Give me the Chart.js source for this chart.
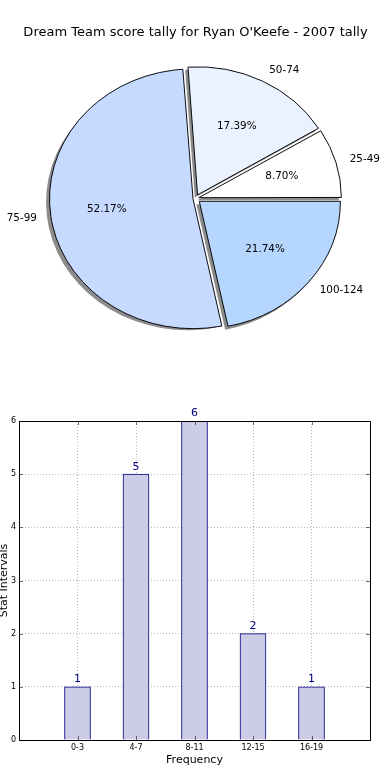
<!DOCTYPE html>
<html lang="en">
<head>
  <meta charset="UTF-8" />
  <title>Dream Team score tally</title>
  <script src="https://cdn.jsdelivr.net/npm/chart.js"></script>
  <style>
    body { margin: 0; background: #fff; font-family: 'DejaVu Sans', sans-serif; }
    #pieBox { position: absolute; left: 0; top: 0; width: 390px; height: 380px; }
    #barBox { position: absolute; left: 0; top: 390px; width: 390px; height: 390px; }
  </style>
</head>
<body>

  <div id="pieBox"><canvas id="pieChart" width="390" height="380"></canvas></div>
  <div id="barBox"><canvas id="barChart" width="390" height="390"></canvas></div>

  <script>
    // pie data (matplotlib order, counter-clockwise from 3 o'clock)
    const pieLabels = ['25-49', '50-74', '75-99', '100-124'];
    const pieValues = [2, 4, 12, 5];
    const pieColors = ['#ffffff', '#eaf2ff', '#c6d9ff', '#b5d6ff'];

    // bar data
    const barCategories = ['0-3', '4-7', '8-11', '12-15', '16-19'];
    const barValues = [1, 5, 6, 2, 1];
    const yTicks = [0, 1, 2, 3, 4, 5, 6];

    Chart.defaults.font.family = "'DejaVu Sans', sans-serif";
    Chart.defaults.color = '#000';

    const squash = 0.905;   // the pie axes are not square -> ellipse
    const explode = 5;      // px each wedge is pulled out
    const total = pieValues.reduce((a, b) => a + b, 0);

    // chart.js runs clockwise, so reverse to get the same look
    const order = [3, 2, 1, 0];
    const cjLabels = order.map(i => pieLabels[i]);
    const cjValues = order.map(i => pieValues[i]);
    const cjColors = order.map(i => pieColors[i]);
    // ArcElement moves offset/4 * (2 - sin(circ)), undo that so every wedge moves `explode` px
    const cjOffsets = cjValues.map(v => {
      const circ = v / total * 2 * Math.PI;
      return explode * 4 / (2 - Math.sin(Math.min(Math.PI, circ)));
    });

    const piePlugin = {
      id: 'pieLook',
      beforeDatasetsDraw(chart) {
        const ctx = chart.ctx;
        const arcs = chart.getDatasetMeta(0).data;
        const a = arcs[0];
        ctx.save();
        ctx.translate(a.x, a.y);
        ctx.scale(1, squash);
        ctx.translate(-a.x, -a.y);
        // shadows first, under every wedge
        ctx.fillStyle = 'rgba(0,0,0,0.45)';
        arcs.forEach(arc => {
          const mid = (arc.startAngle + arc.endAngle) / 2;
          const cx = arc.x + Math.cos(mid) * explode - 3;
          const cy = arc.y + Math.sin(mid) * explode + 3 / squash;
          ctx.beginPath();
          ctx.moveTo(cx, cy);
          ctx.arc(cx, cy, arc.outerRadius + 0.5, arc.startAngle, arc.endAngle);
          ctx.closePath();
          ctx.fill();
        });
      },
      afterDatasetsDraw(chart) {
        const ctx = chart.ctx;
        ctx.restore();
        ctx.save();
        ctx.font = "10.4px 'DejaVu Sans'";
        ctx.fillStyle = '#000';
        ctx.textBaseline = 'middle';
        chart.getDatasetMeta(0).data.forEach((arc, i) => {
          const mid = (arc.startAngle + arc.endAngle) / 2;
          const c = Math.cos(mid), s = Math.sin(mid);
          const r = arc.outerRadius;
          // outer label
          const d1 = explode + 1.1 * r;
          ctx.textAlign = c > 0 ? 'left' : 'right';
          ctx.fillText(cjLabels[i], arc.x + d1 * c, arc.y + squash * d1 * s);
          // percentage
          const d2 = explode + 0.6 * r;
          ctx.textAlign = 'center';
          const pct = (cjValues[i] / total * 100).toFixed(2) + '%';
          ctx.fillText(pct, arc.x + d2 * c, arc.y + squash * d2 * s);
        });
        ctx.restore();
      }
    };

    new Chart(document.getElementById('pieChart'), {
      type: 'pie',
      data: {
        labels: cjLabels,
        datasets: [{
          data: cjValues,
          backgroundColor: cjColors,
          borderColor: '#000',
          borderWidth: 1,
          offset: cjOffsets
        }]
      },
      options: {
        responsive: false,
        animation: false,
        events: [],
        rotation: 90,
        radius: 141,
        layout: { padding: { top: 4.4, bottom: 23, left: 1, right: 0 } },
        plugins: {
          legend: { display: false },
          tooltip: { enabled: false },
          title: {
            display: true,
            text: "Dream Team score tally for Ryan O'Keefe - 2007 tally",
            font: { size: 13, weight: 'normal' },
            color: '#000',
            padding: { top: 20, bottom: 0 }
          }
        }
      },
      plugins: [piePlugin]
    });

    // numbers over the bars
    const barValuePlugin = {
      id: 'barValues',
      afterDatasetsDraw(chart) {
        const ctx = chart.ctx;
        ctx.save();
        ctx.font = "11px 'DejaVu Sans'";
        ctx.fillStyle = '#000080';
        ctx.textAlign = 'center';
        ctx.textBaseline = 'bottom';
        chart.getDatasetMeta(0).data.forEach((bar, i) => {
          ctx.fillText(String(barValues[i]), bar.x, bar.y - 2);
        });
        ctx.restore();
      }
    };

    // box round the axes plus the small inward ticks
    const framePlugin = {
      id: 'frame',
      afterDraw(chart) {
        const { ctx, chartArea: a, scales } = chart;
        ctx.save();
        ctx.strokeStyle = 'rgba(0,0,0,0.55)';
        ctx.lineWidth = 1;
        ctx.beginPath();
        scales.y.ticks.forEach(t => {
          const y = Math.round(scales.y.getPixelForValue(t.value)) + 0.5;
          ctx.moveTo(a.left, y); ctx.lineTo(a.left + 4, y);
          ctx.moveTo(a.right, y); ctx.lineTo(a.right - 4, y);
        });
        scales.x.ticks.forEach(t => {
          const x = Math.round(scales.x.getPixelForValue(t.value)) + 0.5;
          ctx.moveTo(x, a.top); ctx.lineTo(x, a.top + 4);
          ctx.moveTo(x, a.bottom); ctx.lineTo(x, a.bottom - 4);
        });
        ctx.stroke();
        ctx.strokeStyle = '#000';
        ctx.strokeRect(a.left + 0.5, a.top + 0.5, a.right - a.left, a.bottom - a.top);
        ctx.restore();
      }
    };

    new Chart(document.getElementById('barChart'), {
      type: 'bar',
      data: {
        datasets: [{
          data: barValues.map((v, i) => ({ x: i, y: v })),
          backgroundColor: '#ccccE6',
          borderColor: '#000080',
          borderWidth: 1,
          barThickness: 26
        }]
      },
      options: {
        responsive: false,
        animation: false,
        events: [],
        layout: { padding: { top: 31, right: 20, left: 0, bottom: 0 } },
        plugins: {
          legend: { display: false },
          tooltip: { enabled: false }
        },
        scales: {
          x: {
            type: 'linear',
            min: -1,
            max: 5,
            offset: false,
            z: 1,
            afterBuildTicks: s => { s.ticks = barCategories.map((_, i) => ({ value: i })); },
            afterFit: s => { s.height = 40; },
            ticks: {
              font: { size: 8 },
              padding: 3,
              maxRotation: 0,
              callback: v => barCategories[v]
            },
            grid: { color: 'rgba(0,0,0,0.28)', drawTicks: false, offset: false },
            border: { display: false, dash: [1, 2] },
            title: {
              display: true,
              text: 'Frequency',
              font: { size: 11 },
              padding: { top: 0, bottom: 13 }
            }
          },
          y: {
            min: 0,
            max: 6,
            z: 1,
            afterBuildTicks: s => { s.ticks = yTicks.map(v => ({ value: v })); },
            afterFit: s => { s.width = 19; },
            ticks: { font: { size: 8 }, padding: 3 },
            grid: { color: 'rgba(0,0,0,0.28)', drawTicks: false },
            border: { display: false, dash: [1, 2] },
            title: {
              display: true,
              text: 'Stat Intervals',
              font: { size: 11, lineHeight: 0.8 },
              padding: 0
            }
          }
        }
      },
      plugins: [barValuePlugin, framePlugin]
    });
  </script>
</body>
</html>
